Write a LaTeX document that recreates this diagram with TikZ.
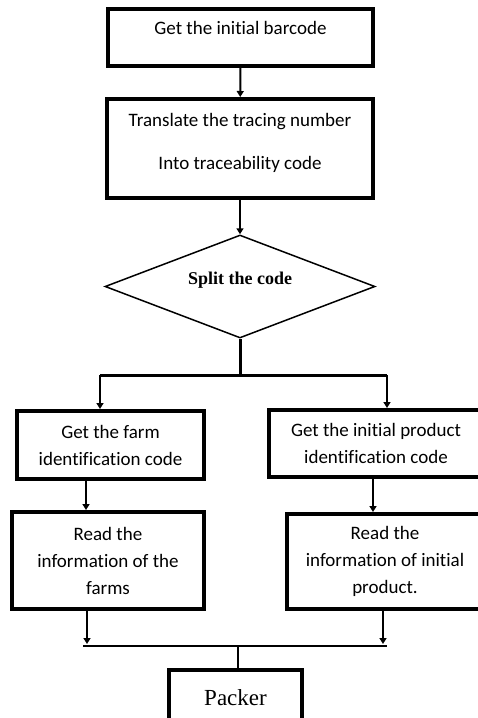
\documentclass[tikz,border=0pt]{standalone}
\usepackage{fontspec}
\setmainfont[Ligatures=NoCommon]{Carlito}
\newfontfamily\timesfont{Liberation Serif}
\usetikzlibrary{positioning,shapes.geometric,arrows.meta}
\tikzset{stepbox/.style={draw, line width=4pt, align=center, inner sep=0pt, font=\fontsize{19}{27}\selectfont},
         link/.style={draw, line width=2pt, -{Triangle[length=6pt,width=7pt]}},
         trunk/.style={draw, line width=3pt},
         rail/.style={draw, line width=1.5pt}}

\begin{document}
\begin{tikzpicture}[x=1pt,y=-1pt]
    \useasboundingbox (0,0) rectangle (477,718);
    \node[stepbox, minimum width=265pt, minimum height=57pt, text height=13pt, text depth=20pt] (barcode) at (240.5,37.5) {Get the initial barcode};
    \node[stepbox, minimum width=266pt, minimum height=99pt, text height=56pt, text depth=15pt] (tracing) at (240,148.5) {Translate the tracing number\\[16pt]Into traceability code};
    \node[draw, diamond, aspect=2.6, line width=1.5pt, inner sep=0pt, minimum width=270pt, minimum height=103pt, text height=13pt, text depth=18pt,
          font=\timesfont\bfseries\fontsize{18}{22}\selectfont] (split) at (240,286.5) {Split the code};
    \node[stepbox, minimum width=187pt, minimum height=68pt] (farm) at (110.5,445) {Get the farm\\identification code};
    \node[stepbox, minimum width=214pt, minimum height=67pt] (prod) at (376,443.5) {Get the initial product\\identification code};
    \node[stepbox, minimum width=192pt, minimum height=97pt] (farminfo) at (108,560.5) {Read the\\information of the\\farms};
    \node[stepbox, minimum width=196pt, minimum height=95pt] (prodinfo) at (385,561.5) {Read the\\information of initial\\product.};
    \node[stepbox, minimum width=133pt, minimum height=56pt, font=\timesfont\fontsize{23}{27}\selectfont] (packer) at (235.5,698) {Packer};
    % fork under the decision
    \coordinate (fork-l) at (100,375);
    \coordinate (fork-r) at (387,375);
    \coordinate (join-l) at (83,646);
    \coordinate (join-r) at (387,646);
    \draw[link] (barcode) -- (tracing);
    \draw[link] (tracing) -- (split);
    \draw[trunk] (split.south) -- (split.south |- fork-l);
    \draw[trunk] (fork-l) -- (fork-r);
    \draw[link] (fork-l) -- (fork-l |- farm.north);
    \draw[link] (fork-r) -- (fork-r |- prod.north);
    \draw[link] ([xshift=-24.5pt]farm.south) -- ([xshift=-24.5pt]farm.south |- farminfo.north);
    \draw[link] ([xshift=-3pt]prod.south) -- ([xshift=-3pt]prod.south |- prodinfo.north);
    % join above the packer
    \draw[link, shorten >=2pt] ([xshift=-21pt]farminfo.south) -- ([xshift=-21pt]farminfo.south |- join-l);
    \draw[link, shorten >=2pt] ([xshift=-2pt]prodinfo.south) -- ([xshift=-2pt]prodinfo.south |- join-r);
    \draw[rail] (join-l) -- (join-r);
    \draw[rail] ([xshift=2.5pt]packer.north |- join-l) -- ([xshift=2.5pt]packer.north);
\end{tikzpicture}
\end{document}
